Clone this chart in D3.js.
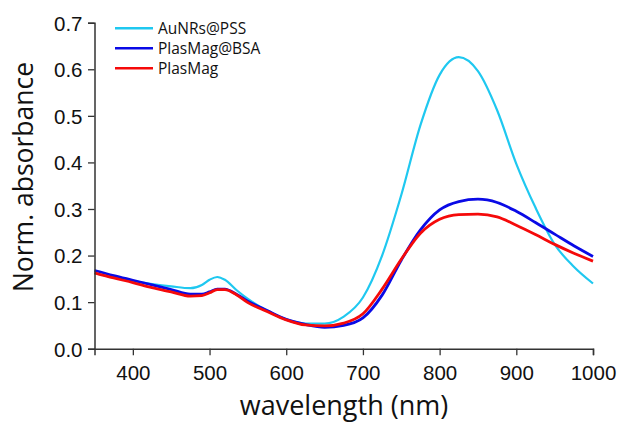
<!DOCTYPE html>
<html>
<head>
<meta charset="utf-8">
<script src="https://cdn.jsdelivr.net/npm/d3@7"></script>
<style>
  body { margin: 0; background: #fff; }
  svg { font-family: "Open Sans", sans-serif; }
</style>
</head>
<body>
<svg width="620" height="423"></svg>
<script>
// data
const wavelengths = [350, 375, 400, 425, 450, 475, 490, 500, 510, 520, 535, 550, 575, 600, 625, 650, 675, 700, 725, 750, 775, 800, 825, 850, 875, 900, 925, 950, 975, 1000];
const aunrsPss = [0.162, 0.153, 0.145, 0.139, 0.134, 0.130, 0.137, 0.148, 0.154, 0.148, 0.126, 0.107, 0.082, 0.063, 0.054, 0.054, 0.069, 0.110, 0.200, 0.330, 0.480, 0.588, 0.626, 0.596, 0.512, 0.397, 0.303, 0.224, 0.176, 0.140];
const plasmagBsa = [0.168, 0.157, 0.147, 0.137, 0.127, 0.117, 0.117, 0.122, 0.128, 0.128, 0.117, 0.102, 0.082, 0.063, 0.052, 0.046, 0.050, 0.066, 0.115, 0.190, 0.255, 0.298, 0.316, 0.321, 0.314, 0.295, 0.271, 0.246, 0.221, 0.198];
const plasmag = [0.163, 0.152, 0.142, 0.131, 0.122, 0.113, 0.114, 0.120, 0.127, 0.127, 0.116, 0.099, 0.080, 0.062, 0.051, 0.049, 0.055, 0.075, 0.128, 0.192, 0.248, 0.278, 0.288, 0.289, 0.283, 0.265, 0.245, 0.224, 0.205, 0.188];

const seriesNames = ["AuNRs@PSS", "PlasMag@BSA", "PlasMag"];
const seriesColors = ["#1fc8f0", "#0a0ae6", "#f50a0a"];
const xTicks = [400, 500, 600, 700, 800, 900, 1000];
const yTicks = [0.0, 0.1, 0.2, 0.3, 0.4, 0.5, 0.6, 0.7];

const svg = d3.select("svg");
const margin = { left: 94.5, right: 27, top: 22.7, bottom: 74.3 };
const width = +svg.attr("width");
const height = +svg.attr("height");

const x = d3.scaleLinear().domain([350, 1000]).range([margin.left, width - margin.right]);
const y = d3.scaleLinear().domain([0, 0.7]).range([height - margin.bottom, margin.top]);

const series = [aunrsPss, plasmagBsa, plasmag].map((vals, i) => ({
  name: seriesNames[i],
  color: seriesColors[i],
  points: wavelengths.map((w, j) => [w, vals[j]])
}));

const line = d3.line()
  .x((d) => x(d[0]))
  .y((d) => y(d[1]))
  .curve(d3.curveMonotoneX);

// lines (draw cyan first, red on top)
svg.append("g")
  .selectAll("path")
  .data(series)
  .enter().append("path")
    .attr("d", (d) => line(d.points))
    .attr("fill", "none")
    .attr("stroke", (d) => d.color)
    .attr("stroke-width", (d, i) => i === 0 ? 2.2 : 2.8)
    .attr("stroke-linejoin", "round");

// x axis
const xAxis = svg.append("g")
  .attr("transform", `translate(0,${y(0)})`);
xAxis.call(d3.axisBottom(x).tickValues(d3.range(350, 1001, 50)).tickSize(3.5).tickFormat(""));
xAxis.call(d3.axisBottom(x).tickValues(xTicks).tickSize(6.5).tickFormat(d3.format("d")));

// y axis
const yAxis = svg.append("g")
  .attr("transform", `translate(${x(350)},0)`);
yAxis.call(d3.axisLeft(y).tickValues(d3.range(0, 0.701, 0.05)).tickSize(3.5).tickFormat(""));
yAxis.call(d3.axisLeft(y).tickValues(yTicks).tickSize(6.5).tickFormat(d3.format(".1f")));

svg.selectAll(".domain").attr("stroke", "#333").attr("stroke-width", 1.5);
svg.selectAll(".tick line").attr("stroke", "#333").attr("stroke-width", 1.3);
svg.selectAll(".tick text")
  .attr("fill", "#111")
  .style("font-size", "20.5px");
xAxis.selectAll(".tick text").attr("dy", "1.05em");
yAxis.selectAll(".tick text").attr("x", -12).attr("dy", "0.36em");

// axis titles
svg.append("text")
  .attr("x", 344)
  .attr("y", 415)
  .attr("text-anchor", "middle")
  .attr("fill", "#111")
  .style("font-size", "27px")
  .text("wavelength (nm)");

svg.append("text")
  .attr("transform", "translate(33,177) rotate(-90)")
  .attr("text-anchor", "middle")
  .attr("fill", "#111")
  .style("font-size", "26.5px")
  .text("Norm. absorbance");

// legend
const legend = svg.append("g")
  .selectAll("g")
  .data(series)
  .enter().append("g")
    .attr("transform", (d, i) => `translate(115,${28.3 + i * 20})`);

legend.append("line")
  .attr("x1", 0).attr("x2", 38)
  .attr("stroke", (d) => d.color)
  .attr("stroke-width", 2.5);

legend.append("text")
  .attr("x", 43)
  .attr("dy", "0.35em")
  .attr("fill", "#111")
  .style("font-size", "15.5px")
  .text((d) => d.name);
</script>
</body>
</html>
